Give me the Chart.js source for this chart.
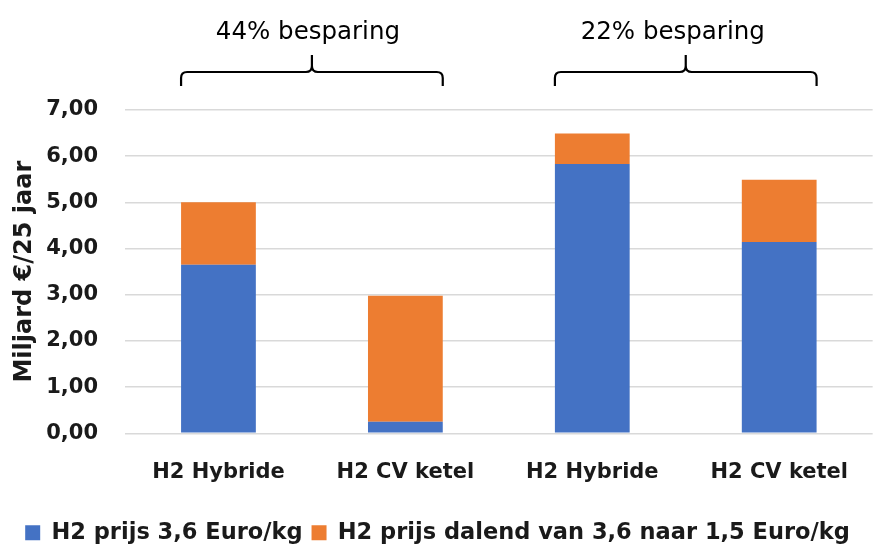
<!DOCTYPE html>
<html>
<head>
<meta charset="utf-8">
<script src="https://cdn.jsdelivr.net/npm/chart.js@4"></script>
<style>
  html, body { margin: 0; padding: 0; background: #ffffff; }
  #wrap { width: 875px; height: 546px; position: relative; }
</style>
</head>
<body>
<div id="wrap"><canvas id="c" width="875" height="546"></canvas></div>
<script>
// ---- data ----
const categories = ['H2 Hybride', 'H2 CV ketel', 'H2 Hybride', 'H2 CV ketel'];
const seriesNames = ['H2 prijs 3,6 Euro/kg', 'H2 prijs dalend van 3,6 naar 1,5 Euro/kg'];
const priceFixed = [3.65, 0.25, 5.83, 4.14];
const priceFalling = [1.35, 2.73, 0.66, 1.35];
const yAxisTitle = 'Miljard €/25 jaar';
const savingLabels = ['44% besparing', '22% besparing'];
const savingGroups = [[0, 1], [2, 3]];

const FONT = "'DejaVu Sans', sans-serif";

const bracketPlugin = {
  id: 'brackets',
  afterDraw(chart) {
    const ctx = chart.ctx;
    const meta = chart.getDatasetMeta(0);
    const textShift = [-4, -13];
    ctx.save();
    savingGroups.forEach((g, i) => {
      const a = meta.data[g[0]], b = meta.data[g[1]];
      const left = a.x - a.width / 2;
      const right = b.x + b.width / 2;
      const mid = (left + right) / 2;
      const yLine = 72, yEnd = 86, yTip = 55, r = 6;
      ctx.strokeStyle = '#000000';
      ctx.lineWidth = 2.2;
      ctx.lineJoin = 'round';
      ctx.beginPath();
      ctx.moveTo(left, yEnd);
      ctx.lineTo(left, yLine + r);
      ctx.quadraticCurveTo(left, yLine, left + r, yLine);
      ctx.lineTo(mid - r, yLine);
      ctx.quadraticCurveTo(mid, yLine, mid, yLine - r);
      ctx.lineTo(mid, yTip);
      ctx.moveTo(mid, yLine - r);
      ctx.quadraticCurveTo(mid, yLine, mid + r, yLine);
      ctx.lineTo(right - r, yLine);
      ctx.quadraticCurveTo(right, yLine, right, yLine + r);
      ctx.lineTo(right, yEnd);
      ctx.stroke();
      ctx.fillStyle = '#000000';
      ctx.font = "24.5px " + FONT;
      ctx.textAlign = 'center';
      ctx.textBaseline = 'alphabetic';
      ctx.fillText(savingLabels[i], mid + textShift[i], 38.5);
    });
    ctx.restore();
  }
};

new Chart(document.getElementById('c'), {
  type: 'bar',
  data: {
    labels: categories,
    datasets: [
      { label: seriesNames[0], data: priceFixed, backgroundColor: '#4472C4', borderWidth: 0 },
      { label: seriesNames[1], data: priceFalling, backgroundColor: '#ED7D31', borderWidth: 0 }
    ]
  },
  options: {
    responsive: false,
    animation: false,
    devicePixelRatio: 1,
    layout: { padding: { top: 110, left: 0, right: 0, bottom: -8 } },
    datasets: { bar: { barPercentage: 0.4, categoryPercentage: 1.0 } },
    plugins: {
      tooltip: { enabled: false },
      legend: {
        position: 'bottom',
        labels: {
          color: '#1a1a1a',
          font: { family: FONT, size: 22.5, weight: 'bold' },
          boxWidth: 15,
          boxHeight: 15,
          padding: 9
        }
      }
    },
    scales: {
      x: {
        stacked: true,
        grid: { display: false, drawTicks: false },
        border: { display: false },
        ticks: { color: '#1a1a1a', padding: 27, font: { family: FONT, size: 21, weight: 'bold' } },
        afterFit(scale) {
          const lh = scale.chart.legend ? scale.chart.legend.height : 40;
          scale.height = 546 + 8 - 433.3 - lh;
        }
      },
      y: {
        stacked: true,
        min: 0,
        max: 7,
        ticks: {
          stepSize: 1,
          padding: 27,
          color: '#1a1a1a',
          font: { family: FONT, size: 21, weight: 'bold' },
          callback: v => v.toFixed(2).replace('.', ',')
        },
        grid: { color: '#d9d9d9', lineWidth: 1.5, drawTicks: false },
        border: { display: false },
        title: {
          display: true,
          text: yAxisTitle,
          color: '#1a1a1a',
          font: { family: FONT, size: 24, weight: 'bold' },
          padding: { top: 10, bottom: 0 }
        },
        afterFit(scale) { scale.width = 125; }
      }
    }
  },
  plugins: [bracketPlugin]
});
</script>
</body>
</html>
